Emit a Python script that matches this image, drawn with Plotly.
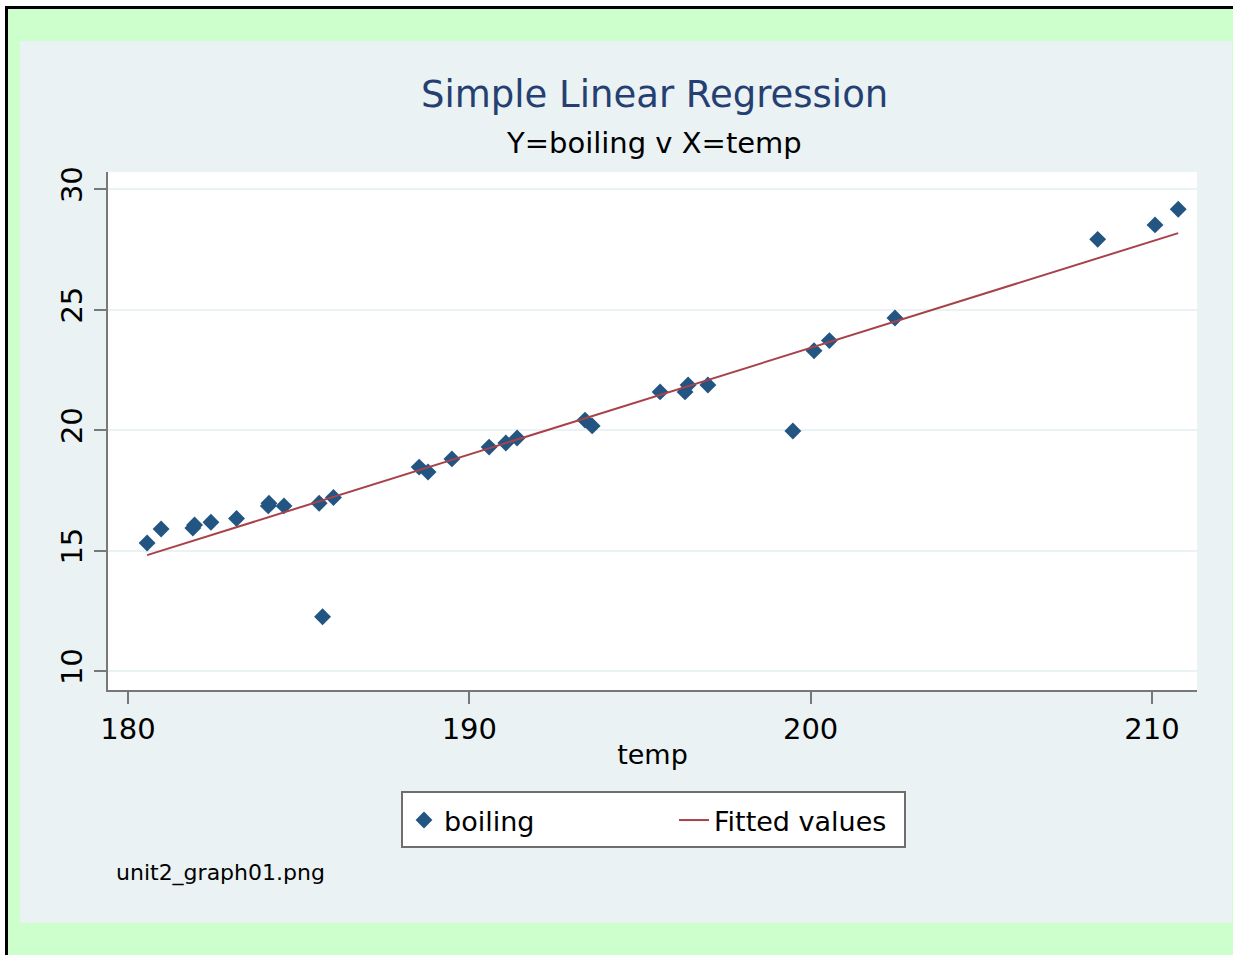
import plotly.graph_objects as go

# ---- data ----
temp = [180.56, 180.97, 181.90, 181.95, 182.43, 183.18, 184.11, 184.13, 184.57, 185.60,
        185.70, 186.02, 188.53, 188.79, 189.49, 190.58, 191.07, 191.40, 193.39, 193.60,
        195.59, 196.32, 196.41, 196.99, 199.48, 200.10, 200.55, 202.47, 208.41, 210.09, 210.77]
boiling = [15.31, 15.89, 15.93, 16.06, 16.17, 16.33, 16.85, 16.96, 16.85, 16.96,
           12.25, 17.20, 18.46, 18.26, 18.80, 19.29, 19.46, 19.67, 20.41, 20.17,
           21.58, 21.58, 21.87, 21.87, 19.96, 23.29, 23.71, 24.65, 27.91, 28.51, 29.16]
fit_x = [180.56, 210.77]
fit_y = [14.81, 28.17]
x_ticks = [180, 190, 200, 210]
y_ticks = [10, 15, 20, 25, 30]

W, H = 1233, 955
L, R, T, B = 108, 36, 172, 265
PW, PH = W - L - R, H - T - B

def px(x):
    return (x - L) / PW

def py(y):
    return (H - B - y) / PH

FONT = "DejaVu Sans"
NAVY = "#225582"
MAROON = "#a8424a"
AXIS = "#787878"
PANEL = "#eaf2f3"
GREEN = "#ccffcc"

fig = go.Figure()
fig.add_trace(go.Scatter(
    x=temp, y=boiling, mode="markers", name="boiling",
    marker=dict(symbol="diamond", size=13, color=NAVY, line=dict(width=0)),
))
fig.add_trace(go.Scatter(
    x=fit_x, y=fit_y, mode="lines", name="Fitted values",
    line=dict(color=MAROON, width=2),
))

shapes = [
    # green page with black frame
    dict(type="rect", xref="paper", yref="paper", layer="below",
         x0=px(6.5), x1=px(1260), y0=py(980), y1=py(7.5),
         fillcolor=GREEN, line=dict(color="black", width=3)),
    # inner panel
    dict(type="rect", xref="paper", yref="paper", layer="below",
         x0=px(20), x1=px(1232), y0=py(923), y1=py(41),
         fillcolor=PANEL, line=dict(width=0)),
    # white plot region
    dict(type="rect", xref="paper", yref="paper", layer="below",
         x0=0, x1=1, y0=0, y1=1, fillcolor="white", line=dict(width=0)),
    # legend box
    dict(type="rect", xref="paper", yref="paper", layer="below",
         x0=px(402), x1=px(905), y0=py(847), y1=py(792),
         fillcolor="white", line=dict(color="#6e6e6e", width=2)),
]

annotations = [
    dict(text="Simple Linear Regression", xref="paper", yref="paper",
         x=px(654), y=py(95), xanchor="center", yanchor="middle", showarrow=False,
         font=dict(family=FONT, size=37, color="#263f73")),
    dict(text="Y=boiling v X=temp", xref="paper", yref="paper",
         x=px(654), y=py(143), xanchor="center", yanchor="middle", showarrow=False,
         font=dict(family=FONT, size=29, color="black")),
    dict(text="unit2_graph01.png", xref="paper", yref="paper",
         x=px(114), y=py(873), xanchor="left", yanchor="middle", showarrow=False,
         font=dict(family=FONT, size=22, color="black")),
]

fig.update_layout(
    width=W, height=H,
    margin=dict(l=L, r=R, t=T, b=B, pad=0),
    paper_bgcolor="white",
    plot_bgcolor="rgba(0,0,0,0)",
    font=dict(family=FONT, color="black"),
    showlegend=True,
    legend=dict(
        orientation="h", x=px(404), y=py(796), xanchor="left", yanchor="top",
        bgcolor="rgba(0,0,0,0)", borderwidth=0,
        entrywidth=225, entrywidthmode="pixels",
        font=dict(family=FONT, size=27, color="black"),
    ),
    shapes=shapes,
    annotations=annotations,
    xaxis=dict(
        range=[179.414, 211.32], tickmode="array", tickvals=x_ticks,
        ticks="outside", ticklen=12, tickwidth=2, tickcolor=AXIS,
        showline=True, linecolor=AXIS, linewidth=2,
        showgrid=False, zeroline=False,
        tickfont=dict(family=FONT, size=29, color="black"),
        title=dict(text="temp", font=dict(family=FONT, size=27, color="black"), standoff=0),
    ),
    yaxis=dict(
        range=[9.212, 30.705], tickmode="array", tickvals=y_ticks,
        ticks="outside", ticklen=12, tickwidth=2, tickcolor=AXIS,
        showline=True, linecolor=AXIS, linewidth=2,
        showgrid=True, gridcolor=PANEL, gridwidth=2, zeroline=False,
        tickangle=-90,
        tickfont=dict(family=FONT, size=29, color="black"),
    ),
)

fig.write_html(
    "out.html",
    config={"displayModeBar": False},
    post_script="document.body.style.margin='0';document.body.style.overflow='hidden';",
)
